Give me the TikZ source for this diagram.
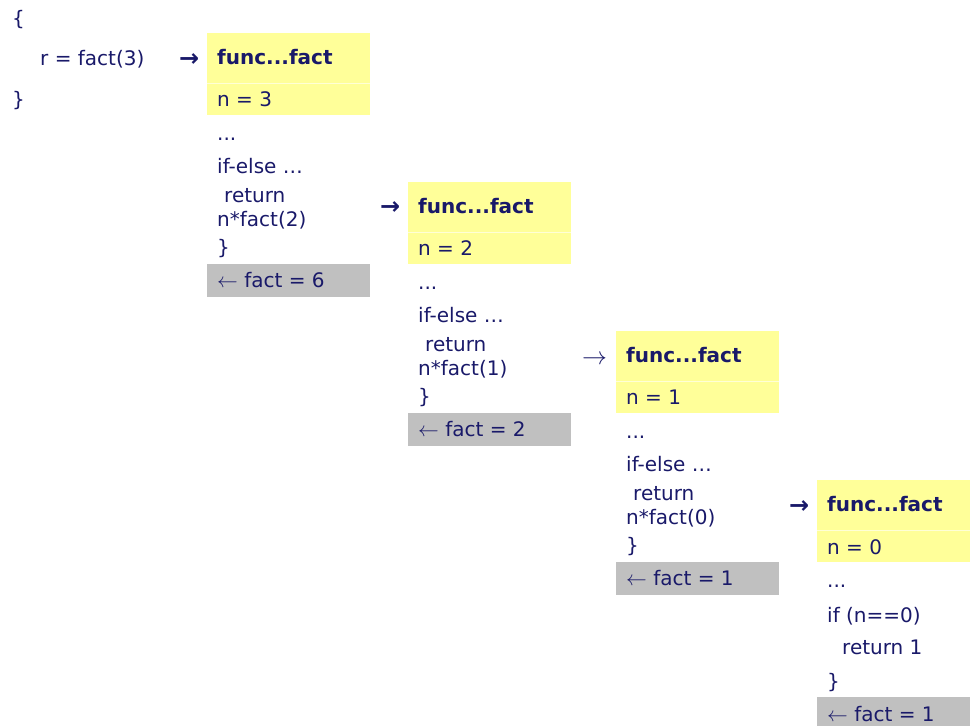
\documentclass[tikz,border=0pt]{standalone}
\usepackage{fontspec}
\setmainfont{DejaVu Sans}
\definecolor{navy}{RGB}{25,25,105}
\definecolor{ylw}{RGB}{255,255,153}
\definecolor{gry}{RGB}{192,192,192}
\tikzset{
  txt/.style={anchor=base west, inner sep=0pt, text=navy, font=\fontsize{20}{24}\selectfont},
  hdr/.style={txt, font=\fontsize{20}{24}\selectfont\bfseries},
  boldarrow/.style={txt, font=\fontsize{24}{24}\selectfont\bfseries},
  thinarrow/.style={txt, font=\fontsize{25}{24}\selectfont},
  ybox/.style={fill=ylw},
  gbox/.style={fill=gry},
  sepline/.style={draw=white!60!ylw, line width=0.8pt}
}
\newcommand\stackframe[6]{%
  \fill[ybox] (#2,#3) rectangle (#2+163,#3+82);
  \draw[sepline] (#2,#3+50) -- (#2+163,#3+50);
  \fill[gbox] (#2,#3+231) rectangle (#2+163,#3+264);
  \node[hdr] (#1h) at (#2+10,#3+31) {func...fact};
  \node[txt] (#1n) at (#2+10,#3+73) {n = #4};
  \node[txt] (#1d) at (#2+10,#3+107) {...};
  \node[txt] (#1i) at (#2+10,#3+140) {if-else …};
  \node[txt] (#1r) at (#2+17,#3+169) {return};
  \node[txt] (#1c) at (#2+10,#3+193) {n*fact(#5)};
  \node[txt] (#1b) at (#2+10,#3+221) {\}};
  \node[txt] (#1f) at (#2+10,#3+254) {$\leftarrow$ fact = #6};
}
\begin{document}
\begin{tikzpicture}[x=1pt,y=-1pt]
\useasboundingbox (0,0) rectangle (970,726);
% caller
\node[txt] (lb) at (12,25) {\{};
\node[txt] (call) at (40,65) {r = fact(3)};
\node[txt] (rb) at (12,106) {\}};
% frames
\stackframe{fA}{207}{33}{3}{2}{6}
\stackframe{fB}{408}{182}{2}{1}{2}
\stackframe{fC}{616}{331}{1}{0}{1}
% last frame
\fill[ybox] (817,480) rectangle (970,562);
\draw[sepline] (817,530) -- (970,530);
\fill[gbox] (817,697) rectangle (970,726);
\node[hdr] (fDh) at (827,511) {func...fact};
\node[txt] (fDn) at (827,554) {n = 0};
\node[txt] (fDd) at (827,587) {...};
\node[txt] (fDi) at (827,622) {if (n==0)};
\node[txt] (fDr) at (842,654) {return 1};
\node[txt] (fDb) at (827,688) {\}};
\node[txt] (fDf) at (827,721) {$\leftarrow$ fact = 1};
% call arrows (glyphs)
\node[boldarrow] (a1) at (179,66) {→};
\node[boldarrow] (a2) at (380,214) {→};
\node[thinarrow] (a3) at (582,364) {$\rightarrow$};
\node[boldarrow] (a4) at (789,513) {→};
\end{tikzpicture}
\end{document}
